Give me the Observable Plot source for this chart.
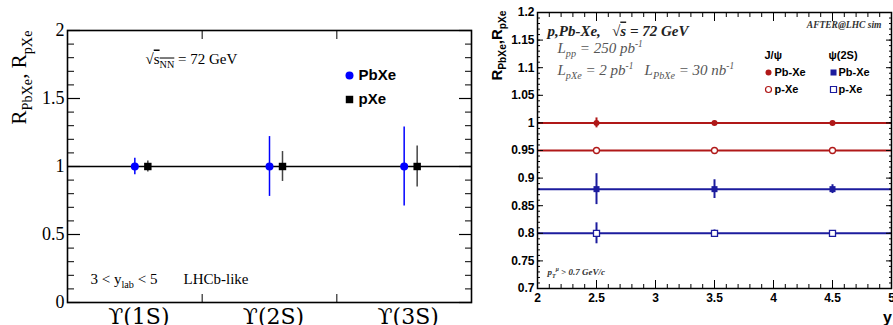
<!DOCTYPE html>
<html><head><meta charset="utf-8">
<script src="https://cdn.jsdelivr.net/npm/d3@7"></script>
<script src="https://cdn.jsdelivr.net/npm/@observablehq/plot@0.6"></script>
<style>
html,body{margin:0;padding:0;background:#fff;}
#wrap{position:relative;width:893px;height:325px;overflow:hidden;background:#fff;}
#right{position:absolute;left:450px;top:0;}
#left{position:absolute;left:0;top:0;}
</style></head><body>
<div id="wrap"><div id="right"></div><div id="left"></div></div>
<script>
// ---------- Left panel data ----------
const states = ["ϒ(1S)", "ϒ(2S)", "ϒ(3S)"];
const rPbXe = [1.0, 1.0, 1.0];
const errPbXe = [0.06, 0.22, 0.29];
const rPXe = [1.0, 1.0, 1.0];
const errPXe = [0.04, 0.11, 0.15];
const leftYTicks = [0, 0.5, 1, 1.5, 2];
const leftRef = [1];
const leftLegend = ["PbXe", "pXe"];

// ---------- Right panel data ----------
const rapidity = [2.5, 3.5, 4.5];
const jpsiPbXe = [1.0, 1.0, 1.0];
const jpsiPbXeErr = [0.009, 0.003, 0.003];
const jpsiPXe = [0.95, 0.95, 0.95];
const jpsiPXeErr = [0.003, 0.002, 0.002];
const psiPbXe = [0.88, 0.88, 0.88];
const psiPbXeErr = [0.028, 0.017, 0.008];
const psiPXe = [0.80, 0.80, 0.80];
const psiPXeErr = [0.019, 0.006, 0.005];
const rightYTicks = [0.7, 0.75, 0.8, 0.85, 0.9, 0.95, 1, 1.05, 1.1, 1.15, 1.2];
const rightXTicks = [2, 2.5, 3, 3.5, 4, 4.5, 5];
const rightLegendHeads = ["J/ψ", "ψ(2S)"];
const rightLegendItems = ["Pb-Xe", "p-Xe"];

const serif = "'Liberation Serif', 'DejaVu Serif', serif";
const sans = "'Liberation Sans', Arial, sans-serif";

// ---------- Left panel ----------
const leftRows = states.map((s, i) => ({state: s, pos: i + 0.5, pb: rPbXe[i], pbErr: errPbXe[i], p: rPXe[i], pErr: errPXe[i]}));

const left = Plot.plot({
  width: 475, height: 325,
  marginLeft: 67, marginRight: 4, marginTop: 30, marginBottom: 23,
  style: {background: "none", fontFamily: serif, fontSize: "18px", color: "black", overflow: "visible"},
  x: {domain: [0, 3], axis: null},
  y: {domain: [0, 2], axis: null},
  marks: [
    Plot.ruleY(leftRef, {stroke: "black", strokeWidth: 1.6}),
    Plot.ruleX(leftRows, {x: "pos", y1: d => d.pb - d.pbErr, y2: d => d.pb + d.pbErr, stroke: "#0000ff", strokeWidth: 1.5}),
    Plot.ruleX(leftRows, {x: "pos", y1: d => d.p - d.pErr, y2: d => d.p + d.pErr, stroke: "#444", strokeWidth: 1.5, dx: 13}),
    Plot.dot(leftRows, {x: "pos", y: "pb", r: 4, fill: "#0000ff", stroke: "none"}),
    Plot.dot(leftRows, {x: "pos", y: "p", r: 4.2, symbol: "square", fill: "black", stroke: "none", dx: 13}),
    Plot.frame({stroke: "black", strokeWidth: 1.6}),
    Plot.axisY({ticks: leftYTicks, tickSize: -13, fill: "none", strokeWidth: 1.2}),
    Plot.axisY({ticks: 20, tickSize: -7, fill: "none"}),
    Plot.axisY({anchor: "right", ticks: leftYTicks, tickSize: -13, fill: "none", strokeWidth: 1.2}),
    Plot.axisY({anchor: "right", ticks: 20, tickSize: -7, fill: "none"}),
    Plot.axisY({ticks: leftYTicks, tickSize: 0, tickPadding: 3, tickFormat: d => String(d), label: null, fontSize: 18, fontFamily: serif}),
    Plot.axisX({ticks: [1, 2], tickSize: -8, fill: "none"}),
    Plot.axisX({anchor: "top", ticks: [1, 2], tickSize: -8, fill: "none"}),
    Plot.text(leftRows, {x: "pos", text: "state", frameAnchor: "bottom", lineAnchor: "top", dy: 6, dx: 4, fontSize: 22, fontFamily: "'DejaVu Serif', 'Liberation Serif', serif"}),
    Plot.text(["R_{PbXe}, R_{pXe}"], {frameAnchor: "top-left", rotate: -90, textAnchor: "end", lineAnchor: "bottom", dx: -42, dy: 0, fontSize: 21, fontFamily: serif}),
    Plot.text(["√~{s_{NN}} = 72 GeV"], {frameAnchor: "top-left", textAnchor: "start", lineAnchor: "bottom", dx: 78, dy: 33, fontSize: 15, fontFamily: serif}),
    Plot.text(["3 < y_{lab} < 5"], {frameAnchor: "bottom-left", textAnchor: "start", lineAnchor: "bottom", dx: 23, dy: -19, fontSize: 15, fontFamily: serif}),
    Plot.text(["LHCb-like"], {frameAnchor: "bottom-left", textAnchor: "start", lineAnchor: "bottom", dx: 116, dy: -19, fontSize: 15, fontFamily: serif}),
    // legend
    Plot.dot([leftLegend[0]], {frameAnchor: "top-left", dx: 282, dy: 45, r: 4, fill: "#0000ff", stroke: "none"}),
    Plot.text([leftLegend[0]], {frameAnchor: "top-left", dx: 291, dy: 45, textAnchor: "start", lineAnchor: "middle", fontFamily: sans, fontWeight: "bold", fontSize: 15}),
    Plot.dot([leftLegend[1]], {frameAnchor: "top-left", dx: 282, dy: 69, r: 4.2, symbol: "square", fill: "black", stroke: "none"}),
    Plot.text([leftLegend[1]], {frameAnchor: "top-left", dx: 291, dy: 69, textAnchor: "start", lineAnchor: "middle", fontFamily: sans, fontWeight: "bold", fontSize: 15})
  ]
});

// ---------- Right panel ----------
const jRed = "#b01818", pBlue = "#1c1c9e";
const series = [
  {name: "J/ψ Pb-Xe", vals: jpsiPbXe, errs: jpsiPbXeErr, color: jRed, symbol: "circle", open: false, r: 3},
  {name: "J/ψ p-Xe", vals: jpsiPXe, errs: jpsiPXeErr, color: jRed, symbol: "circle", open: true, r: 3},
  {name: "ψ(2S) Pb-Xe", vals: psiPbXe, errs: psiPbXeErr, color: pBlue, symbol: "square", open: false, r: 3.4},
  {name: "ψ(2S) p-Xe", vals: psiPXe, errs: psiPXeErr, color: pBlue, symbol: "square", open: true, r: 3.4}
];
const seriesMarks = [];
for (const s of series) {
  const rows = rapidity.map((y, i) => ({y, v: s.vals[i], e: s.errs[i]}));
  seriesMarks.push(Plot.ruleY([d3.mean(s.vals)], {stroke: s.color, strokeWidth: 2}));
  seriesMarks.push(Plot.ruleX(rows, {x: "y", y1: d => d.v - d.e, y2: d => d.v + d.e, stroke: s.color, strokeWidth: 2}));
  seriesMarks.push(Plot.dot(rows, {x: "y", y: "v", r: s.r, symbol: s.symbol, fill: s.open ? "white" : s.color, stroke: s.color, strokeWidth: s.open ? 1.3 : 0}));
}
const fmt = d => String(+d.toFixed(2));

const right = Plot.plot({
  width: 443, height: 325,
  marginLeft: 87, marginRight: 2, marginTop: 12, marginBottom: 37,
  style: {background: "none", fontFamily: sans, fontSize: "12px", color: "black", overflow: "visible"},
  x: {domain: [2, 5], axis: null},
  y: {domain: [0.7, 1.2], axis: null},
  marks: [
    ...seriesMarks,
    Plot.frame({stroke: "black", strokeWidth: 1.5}),
    Plot.axisY({ticks: rightYTicks, tickSize: -6, fill: "none"}),
    Plot.axisY({ticks: 50, tickSize: -3, fill: "none"}),
    Plot.axisY({anchor: "right", ticks: rightYTicks, tickSize: -6, fill: "none"}),
    Plot.axisY({anchor: "right", ticks: 50, tickSize: -3, fill: "none"}),
    Plot.axisY({ticks: rightYTicks, tickSize: 0, tickPadding: 3, tickFormat: fmt, label: null, fontFamily: sans, fontWeight: "bold", fontSize: 12}),
    Plot.axisX({ticks: rightXTicks, tickSize: -8, fill: "none"}),
    Plot.axisX({ticks: 30, tickSize: -4, fill: "none"}),
    Plot.axisX({anchor: "top", ticks: rightXTicks, tickSize: -8, fill: "none"}),
    Plot.axisX({anchor: "top", ticks: 30, tickSize: -4, fill: "none"}),
    Plot.axisX({ticks: rightXTicks, tickSize: 0, tickPadding: 5, tickFormat: fmt, label: null, fontFamily: sans, fontWeight: "bold", fontSize: 12}),
    Plot.text(["R_{PbXe},R_{pXe}"], {frameAnchor: "top-left", rotate: -90, textAnchor: "end", lineAnchor: "bottom", dx: -36, dy: -2, fontFamily: sans, fontWeight: "bold", fontSize: 15}),
    Plot.text(["y"], {frameAnchor: "bottom-right", dx: -4, dy: 34, textAnchor: "middle", lineAnchor: "bottom", fontFamily: sans, fontWeight: "bold", fontSize: 16}),
    Plot.text(["p,Pb-Xe,   √~{s} = 72 GeV"], {frameAnchor: "top-left", dx: 10, dy: 23, textAnchor: "start", lineAnchor: "bottom", fontFamily: serif, fontWeight: "bold", fontStyle: "italic", fontSize: 15, fill: "#222"}),
    Plot.text(["L_{pp} = 250 pb^{-1}"], {frameAnchor: "top-left", dx: 20, dy: 40, textAnchor: "start", lineAnchor: "bottom", fontFamily: serif, fontStyle: "italic", fontSize: 15, fill: "#555"}),
    Plot.text(["L_{pXe} = 2 pb^{-1}   L_{PbXe} = 30 nb^{-1}"], {frameAnchor: "top-left", dx: 20, dy: 62, textAnchor: "start", lineAnchor: "bottom", fontFamily: serif, fontStyle: "italic", fontSize: 15, fill: "#555"}),
    Plot.text(["AFTER@LHC sim"], {frameAnchor: "top-right", dx: -10, dy: 15, textAnchor: "end", lineAnchor: "bottom", fontFamily: serif, fontWeight: "bold", fontStyle: "italic", fontSize: 9.5, fill: "#333"}),
    Plot.text(["p_{T}^{μ} > 0.7 GeV/c"], {frameAnchor: "bottom-left", dx: 10, dy: -14, textAnchor: "start", lineAnchor: "bottom", fontFamily: serif, fontWeight: "bold", fontStyle: "italic", fontSize: 9, fill: "#333"}),
    // legend
    Plot.text([rightLegendHeads[0]], {frameAnchor: "top-left", dx: 227, dy: 43, textAnchor: "start", lineAnchor: "middle", fontFamily: sans, fontWeight: "bold", fontSize: 11}),
    Plot.text([rightLegendHeads[1]], {frameAnchor: "top-left", dx: 291, dy: 43, textAnchor: "start", lineAnchor: "middle", fontFamily: sans, fontWeight: "bold", fontSize: 11}),
    Plot.dot([rightLegendItems[0]], {frameAnchor: "top-left", dx: 231, dy: 60, r: 3, fill: jRed, stroke: "none"}),
    Plot.text([rightLegendItems[0]], {frameAnchor: "top-left", dx: 237, dy: 60, textAnchor: "start", lineAnchor: "middle", fontFamily: sans, fontWeight: "bold", fontSize: 11}),
    Plot.dot([rightLegendItems[1]], {frameAnchor: "top-left", dx: 231, dy: 77, r: 3, fill: "white", stroke: jRed, strokeWidth: 1.2}),
    Plot.text([rightLegendItems[1]], {frameAnchor: "top-left", dx: 237, dy: 77, textAnchor: "start", lineAnchor: "middle", fontFamily: sans, fontWeight: "bold", fontSize: 11}),
    Plot.dot([rightLegendItems[0]], {frameAnchor: "top-left", dx: 296, dy: 60, r: 3.4, symbol: "square", fill: pBlue, stroke: "none"}),
    Plot.text([rightLegendItems[0]], {frameAnchor: "top-left", dx: 301, dy: 60, textAnchor: "start", lineAnchor: "middle", fontFamily: sans, fontWeight: "bold", fontSize: 11}),
    Plot.dot([rightLegendItems[1]], {frameAnchor: "top-left", dx: 296, dy: 77, r: 3.4, symbol: "square", fill: "white", stroke: pBlue, strokeWidth: 1.2}),
    Plot.text([rightLegendItems[1]], {frameAnchor: "top-left", dx: 301, dy: 77, textAnchor: "start", lineAnchor: "middle", fontFamily: sans, fontWeight: "bold", fontSize: 11})
  ]
});

document.getElementById("right").appendChild(right);
document.getElementById("left").appendChild(left);

// ---------- rich text (sub/superscripts, overline) ----------
function parseRich(s) {
  const out = [];
  (function walk(str, mode, over) {
    let buf = "";
    for (let i = 0; i < str.length; i++) {
      const c = str[i];
      if ((c === "_" || c === "^" || c === "~") && str[i + 1] === "{") {
        if (buf) { out.push({t: buf, mode, over}); buf = ""; }
        let depth = 1, j = i + 2;
        while (j < str.length && depth) { if (str[j] === "{") depth++; else if (str[j] === "}") depth--; j++; }
        const inner = str.slice(i + 2, j - 1);
        walk(inner, c === "_" ? "sub" : c === "^" ? "sup" : mode, over || c === "~");
        i = j - 1;
      } else buf += c;
    }
    if (buf) out.push({t: buf, mode, over});
  })(s, "n", false);
  return out;
}
function applyRich(svg) {
  svg.querySelectorAll("text").forEach(el => {
    const s = el.textContent;
    if (!/[_^~]\{/.test(s)) return;
    const base = parseFloat(getComputedStyle(el).fontSize) || 12;
    const parts = parseRich(s);
    el.textContent = "";
    for (const p of parts) {
      const t = document.createElementNS("http://www.w3.org/2000/svg", "tspan");
      t.textContent = p.t;
      if (p.mode === "sub") { t.setAttribute("font-size", base * 0.68); t.setAttribute("baseline-shift", -base * 0.28); }
      else if (p.mode === "sup") { t.setAttribute("font-size", base * 0.62); t.setAttribute("baseline-shift", base * 0.42); }
      if (p.over) t.setAttribute("text-decoration", "overline");
      el.appendChild(t);
    }
  });
}
applyRich(left);
applyRich(right);
</script>
</body></html>
